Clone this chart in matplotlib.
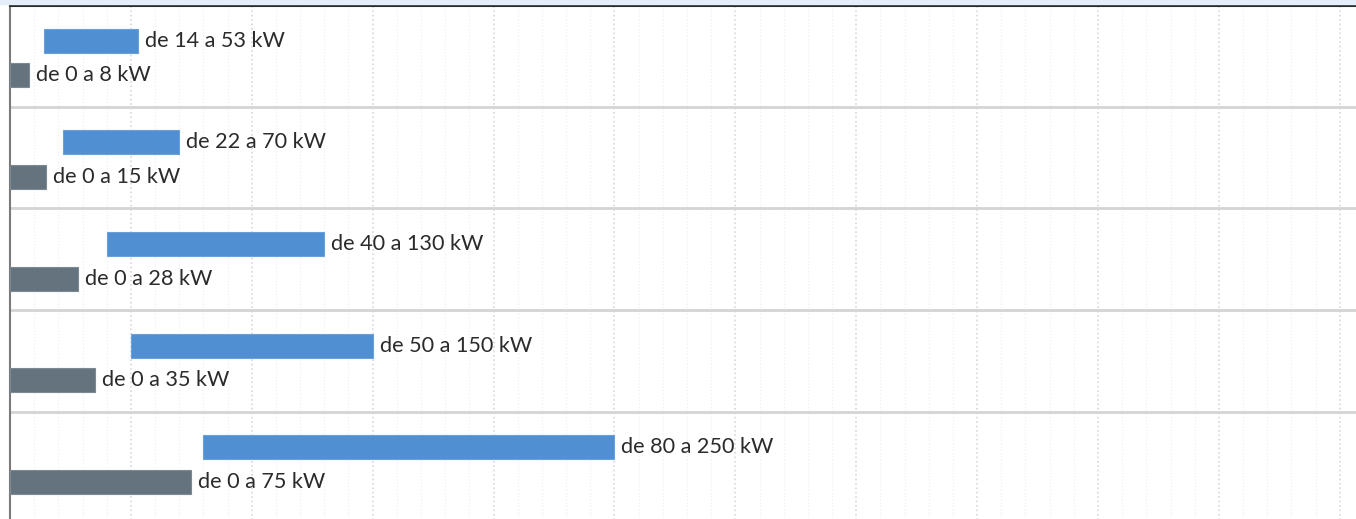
import matplotlib.pyplot as plt
from matplotlib.ticker import MultipleLocator

plt.rcParams['font.family'] = ['Lato', 'DejaVu Sans']

# potencia en kW: rango "alto" (azul) y rango "bajo" (gris) por grupo
blue_start = [14, 22, 40, 50, 80]
blue_end = [53, 70, 130, 150, 250]
gray_start = [0, 0, 0, 0, 0]
gray_end = [8, 15, 28, 35, 75]

BLUE = '#4f8fd2'
GRAY = '#65737e'

fig = plt.figure(figsize=(13.56, 5.19), dpi=100)
ax = fig.add_axes([10 / 1356, -0.02, 1.0, 1 - 5 / 519 + 0.02])

n = len(blue_start)
for i in range(n):
    yb = i + 0.35
    yg = i + 0.69
    ax.barh(yb, blue_end[i] - blue_start[i], left=blue_start[i], height=0.235,
            color=BLUE, edgecolor='#6aa0dc', linewidth=0.8, zorder=3)
    ax.barh(yg, gray_end[i] - gray_start[i], left=gray_start[i], height=0.235,
            color=GRAY, edgecolor='#7d8a93', linewidth=0.8, zorder=3)
    ax.annotate(f'de {blue_start[i]} a {blue_end[i]} kW', (blue_end[i], yb),
                xytext=(5, 0), textcoords='offset points', va='center', ha='left',
                fontsize=15.6, color='#2b2b2b', zorder=4)
    ax.annotate(f'de {gray_start[i]} a {gray_end[i]} kW', (gray_end[i], yg),
                xytext=(5, 0), textcoords='offset points', va='center', ha='left',
                fontsize=15.6, color='#2b2b2b', zorder=4)
    if i > 0:
        ax.axhline(i, color='#d4d4d4', linewidth=2, zorder=2)

ax.set_xlim(0, (1356 - 10) / 2.4)
ax.set_ylim(5.156, 0)

ax.xaxis.set_major_locator(MultipleLocator(50))
ax.xaxis.set_minor_locator(MultipleLocator(10))
ax.grid(axis='x', which='major', color='#d8d8d8', linestyle=':', linewidth=1.2, zorder=1)
ax.grid(axis='x', which='minor', color='#f0f0f0', linestyle=':', linewidth=0.9, zorder=1)
ax.tick_params(which='both', length=0, labelbottom=False, labelleft=False)
ax.set_yticks([])

for s in ['right', 'bottom']:
    ax.spines[s].set_visible(False)
ax.spines['left'].set_color('#7a7a7a')
ax.spines['left'].set_linewidth(1.5)
ax.spines['top'].set_color('#2a2a2a')
ax.spines['top'].set_linewidth(2.2)

# franja azul clara sobre la línea superior
fig.patches.append(plt.Rectangle((0, 1 - 4 / 519), 1, 4 / 519, transform=fig.transFigure,
                                 color='#e3eef9', zorder=0))

fig.savefig('out.png', dpi=100)
